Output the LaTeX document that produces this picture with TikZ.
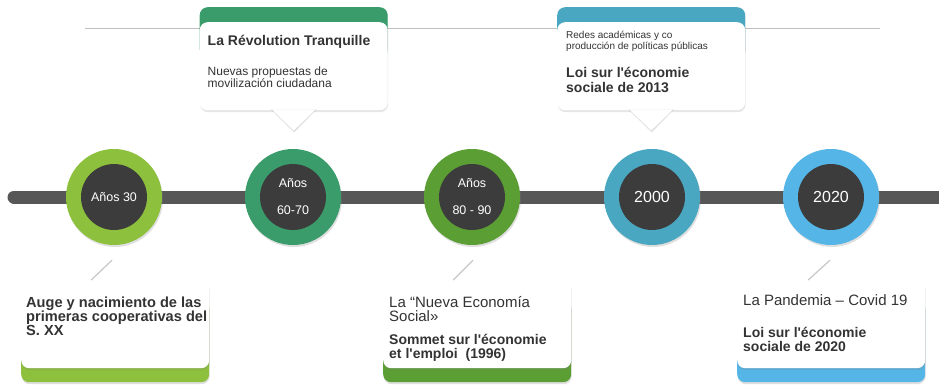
\documentclass[tikz,border=0pt]{standalone}
\usepackage{fontspec}
\setmainfont{Liberation Sans}
\usepackage{tikz}
\usetikzlibrary{positioning, shadows}
\definecolor{limegreen}{HTML}{8DC03C}
\definecolor{seagreen}{HTML}{3A9C6B}
\definecolor{leafgreen}{HTML}{5B9E34}
\definecolor{tealblue}{HTML}{4AA7C2}
\definecolor{skyblue}{HTML}{55B5E6}
\definecolor{coregray}{HTML}{3C3C3C}
\definecolor{bargray}{HTML}{575757}
\definecolor{textgray}{HTML}{333333}
\newcommand{\ap}{\textquotesingle}

\begin{document}
\begin{tikzpicture}[x=1pt, y=-1pt,
        ring/.style={circle, fill=#1, minimum size=96pt, inner sep=0pt,
                     drop shadow={opacity=0.25, shadow xshift=1pt, shadow yshift=-2pt}},
        core/.style={circle, fill=coregray, minimum size=66pt, inner sep=0pt,
                     text=white, align=center, font=\fontsize{12.5}{15}\selectfont},
        band/.style={anchor=north west, rounded corners=8pt, minimum width=188pt,
                     inner sep=0pt, fill=#1,
                     drop shadow={opacity=0.25, shadow xshift=0.5pt, shadow yshift=-2pt}},
        card/.style={anchor=north west, rounded corners=8pt, minimum width=188pt,
                     minimum height=88pt, inner sep=0pt, fill=white,
                     drop shadow={opacity=0.2, shadow xshift=0.5pt, shadow yshift=-2pt}},
        lead/.style={draw=black!22, line width=1.2pt},
        head/.style={inner sep=0pt, text=textgray, align=left,
                     font=\bfseries\fontsize{14}{15}\selectfont},
        body/.style={inner sep=0pt, text=textgray, align=left,
                     font=\fontsize{#1}{14}\selectfont}
    ]
        \useasboundingbox (0,0) rectangle (939,384);
        \clip (0,0) rectangle (939,384);

        % timeline
        \draw[black!25, line width=1pt] (85,28) -- (880,28);
        \coordinate (barL) at (14,197);
        \coordinate (barR) at (950,197);
        \draw[bargray, line width=13pt, line cap=round] (barL) -- (barR);

        % years
        \node[ring=limegreen] (a30)  at (114,197) {};
        \node[ring=seagreen]  (a60)  at (293,197) {};
        \node[ring=leafgreen] (a80)  at (472,197) {};
        \node[ring=tealblue]  (y00)  at (652,197) {};
        \node[ring=skyblue]   (y20)  at (831,197) {};
        \node[core] (a30i) at (a30) {Años 30};
        \node[core] (a60i) at (a60) {Años\\[12pt]60-70};
        \node[core] (a80i) at (a80) {Años\\[12pt]80 - 90};
        \node[core, font=\fontsize{16}{18}\selectfont] (y00i) at (y00) {2000};
        \node[core, font=\fontsize{16}{18}\selectfont] (y20i) at (y20) {2020};

        % top cards
        \node[band=seagreen, minimum height=50pt] (revoh) at (199.5,7) {};
        \node[card] (revo) at (199.5,22) {};
        \fill[black, opacity=0.12] ([shift={(-23,-1)}]revo.south) -- ([shift={(0.5,22)}]revo.south) -- ([shift={(23,-1)}]revo.south) -- cycle;
        \fill[white] ([shift={(-22,-1)}]revo.south) -- ([shift={(0,20)}]revo.south) -- ([shift={(22,-1)}]revo.south) -- cycle;
        \node[head, anchor=base west] (revot) at ([shift={(8,23)}]revo.north west) {La Révolution Tranquille};
        \node[body={12}, font=\fontsize{12}{12.5}\selectfont, anchor=north west] (revob) at ([shift={(8,44.4)}]revo.north west) {Nuevas propuestas de\\movilización ciudadana};

        \node[band=tealblue, minimum height=50pt] (redesh) at (557,7) {};
        \node[card] (redes) at (557,22) {};
        \fill[black, opacity=0.12] ([shift={(-23,-1)}]redes.south) -- ([shift={(0.5,22)}]redes.south) -- ([shift={(23,-1)}]redes.south) -- cycle;
        \fill[white] ([shift={(-22,-1)}]redes.south) -- ([shift={(0,20)}]redes.south) -- ([shift={(22,-1)}]redes.south) -- cycle;
        \node[body={10}, font=\fontsize{10}{11}\selectfont, anchor=north west] (redest) at ([shift={(9,8.8)}]redes.north west) {Redes académicas y co\\producción de políticas públicas};
        \node[head, anchor=north west] (redesb) at ([shift={(9,44.7)}]redes.north west) {Loi sur l\ap économie\\sociale de 2013};

        % bottom cards
        \node[band=limegreen, minimum height=82pt] (augeh) at (21,300) {};
        \node[card] (auge) at (21,280) {};
        \node[head, font=\bfseries\fontsize{14.6}{14}\selectfont, anchor=north west] (auget) at ([shift={(5,16.5)}]auge.north west) {Auge y nacimiento de las\\primeras cooperativas del\\S. XX};

        \node[band=leafgreen, minimum height=82pt] (nuevah) at (383,300) {};
        \node[card] (nueva) at (383,280) {};
        \node[body={15}, font=\fontsize{15}{14}\selectfont, anchor=north west] (nuevat) at ([shift={(6,16)}]nueva.north west) {La “Nueva Economía\\Social»};
        \node[head, font=\bfseries\fontsize{14}{14}\selectfont, anchor=north west] (nuevab) at ([shift={(6,53.7)}]nueva.north west) {Sommet sur l\ap économie\\et l\ap emploi~ (1996)};

        \node[band=skyblue, minimum height=82pt] (covidh) at (737,300) {};
        \node[card] (covid) at (737,280) {};
        \node[body={15}, font=\fontsize{15}{14}\selectfont, anchor=base west] (covidt) at ([shift={(6,25)}]covid.north west) {La Pandemia – Covid 19};
        \node[head, font=\bfseries\fontsize{14}{14}\selectfont, anchor=north west] (covidb) at ([shift={(6,47)}]covid.north west) {Loi sur l\ap économie\\sociale de 2020};

        % leaders
        \draw[lead] ([shift={(-2,15)}]a30.south) -- ([xshift=-24pt]auge.north);
        \draw[lead] ([shift={(1,15)}]a80.south) -- ([xshift=-24pt]nueva.north);
        \draw[lead] ([shift={(-1,15)}]y20.south) -- ([xshift=-23pt]covid.north);
    \end{tikzpicture}
\end{document}
